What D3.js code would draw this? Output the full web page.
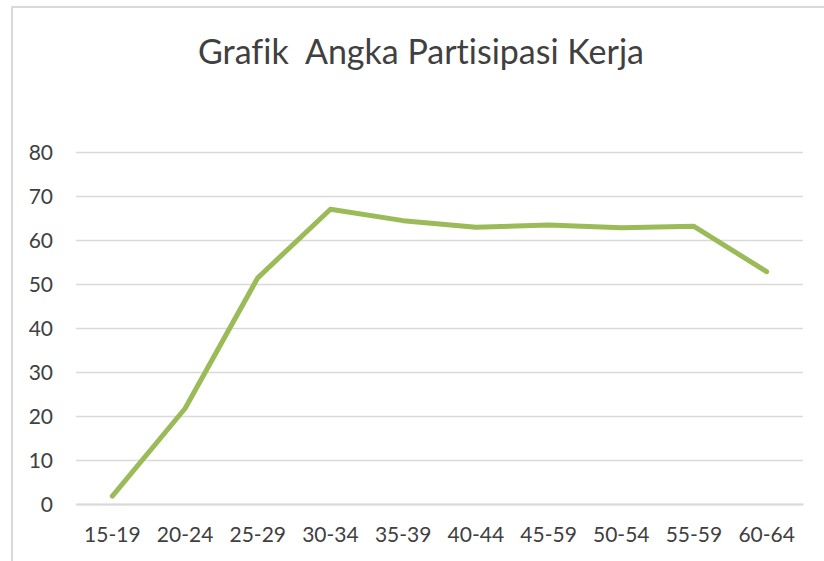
<!DOCTYPE html>
<html>
<head>
<meta charset="utf-8">
<script src="https://cdn.jsdelivr.net/npm/d3@7"></script>
<style>
  html, body { margin: 0; padding: 0; background: #ffffff; }
  svg { display: block; }
  text { font-variant-ligatures: none; }
</style>
</head>
<body>
<svg id="chart" width="824" height="561"></svg>
<script>
const title = "Grafik  Angka Partisipasi Kerja";
const categories = ["15-19", "20-24", "25-29", "30-34", "35-39", "40-44", "45-59", "50-54", "55-59", "60-64"];
const values = [1.8, 21.7, 51.4, 67.0, 64.4, 62.9, 63.4, 62.8, 63.1, 52.8];
const yTicks = [0, 10, 20, 30, 40, 50, 60, 70, 80];

const svg = d3.select("#chart");
const W = 824, H = 561;
const margin = { left: 76, right: 21, top: 152, bottom: 57 };
const plotW = W - margin.left - margin.right;
const font = "Lato, 'Open Sans', sans-serif";

svg.append("rect").attr("width", W).attr("height", H).attr("fill", "#ffffff");
// chart area border
svg.append("rect")
  .attr("x", 12).attr("y", 7)
  .attr("width", W + 20).attr("height", H + 20)
  .attr("fill", "none").attr("stroke", "#d9d9d9").attr("stroke-width", 2);

const x = d3.scaleBand().domain(categories).range([margin.left, margin.left + plotW]);
const y = d3.scaleLinear().domain([0, 80]).range([504, 152]);

// gridlines
const yAxis = d3.axisLeft(y).tickValues(yTicks).tickSize(-plotW).tickPadding(23).tickFormat(d3.format("d"));
const gy = svg.append("g").attr("transform", `translate(${margin.left},0)`).call(yAxis);
gy.select(".domain").remove();
gy.selectAll(".tick line").attr("stroke", "#d9d9d9").attr("stroke-width", 1.5);
gy.selectAll(".tick text")
  .attr("fill", "#404040").style("font-family", font).style("font-size", "21px")
  .attr("dy", "0.36em");

// x axis
const xAxis = d3.axisBottom(x).tickSize(0).tickPadding(23);
const gx = svg.append("g").attr("transform", `translate(0,504)`).call(xAxis);
gx.select(".domain").attr("stroke", "#d9d9d9").attr("stroke-width", 2);
gx.selectAll(".tick text")
  .attr("fill", "#404040").style("font-family", font).style("font-size", "21px")
  .attr("dy", "0.71em");

// line
const line = d3.line()
  .x((d, i) => x(categories[i]) + x.bandwidth() / 2)
  .y(d => y(d));
svg.append("path")
  .datum(values)
  .attr("d", line)
  .attr("fill", "none")
  .attr("stroke", "#9bbb59")
  .attr("stroke-width", 5)
  .attr("stroke-linecap", "round")
  .attr("stroke-linejoin", "round");

// title
svg.append("text")
  .attr("x", 421).attr("y", 64)
  .attr("text-anchor", "middle")
  .attr("fill", "#404040")
  .style("font-family", font).style("font-size", "34px")
  .style("white-space", "pre")
  .attr("xml:space", "preserve")
  .text(title);
</script>
</body>
</html>
